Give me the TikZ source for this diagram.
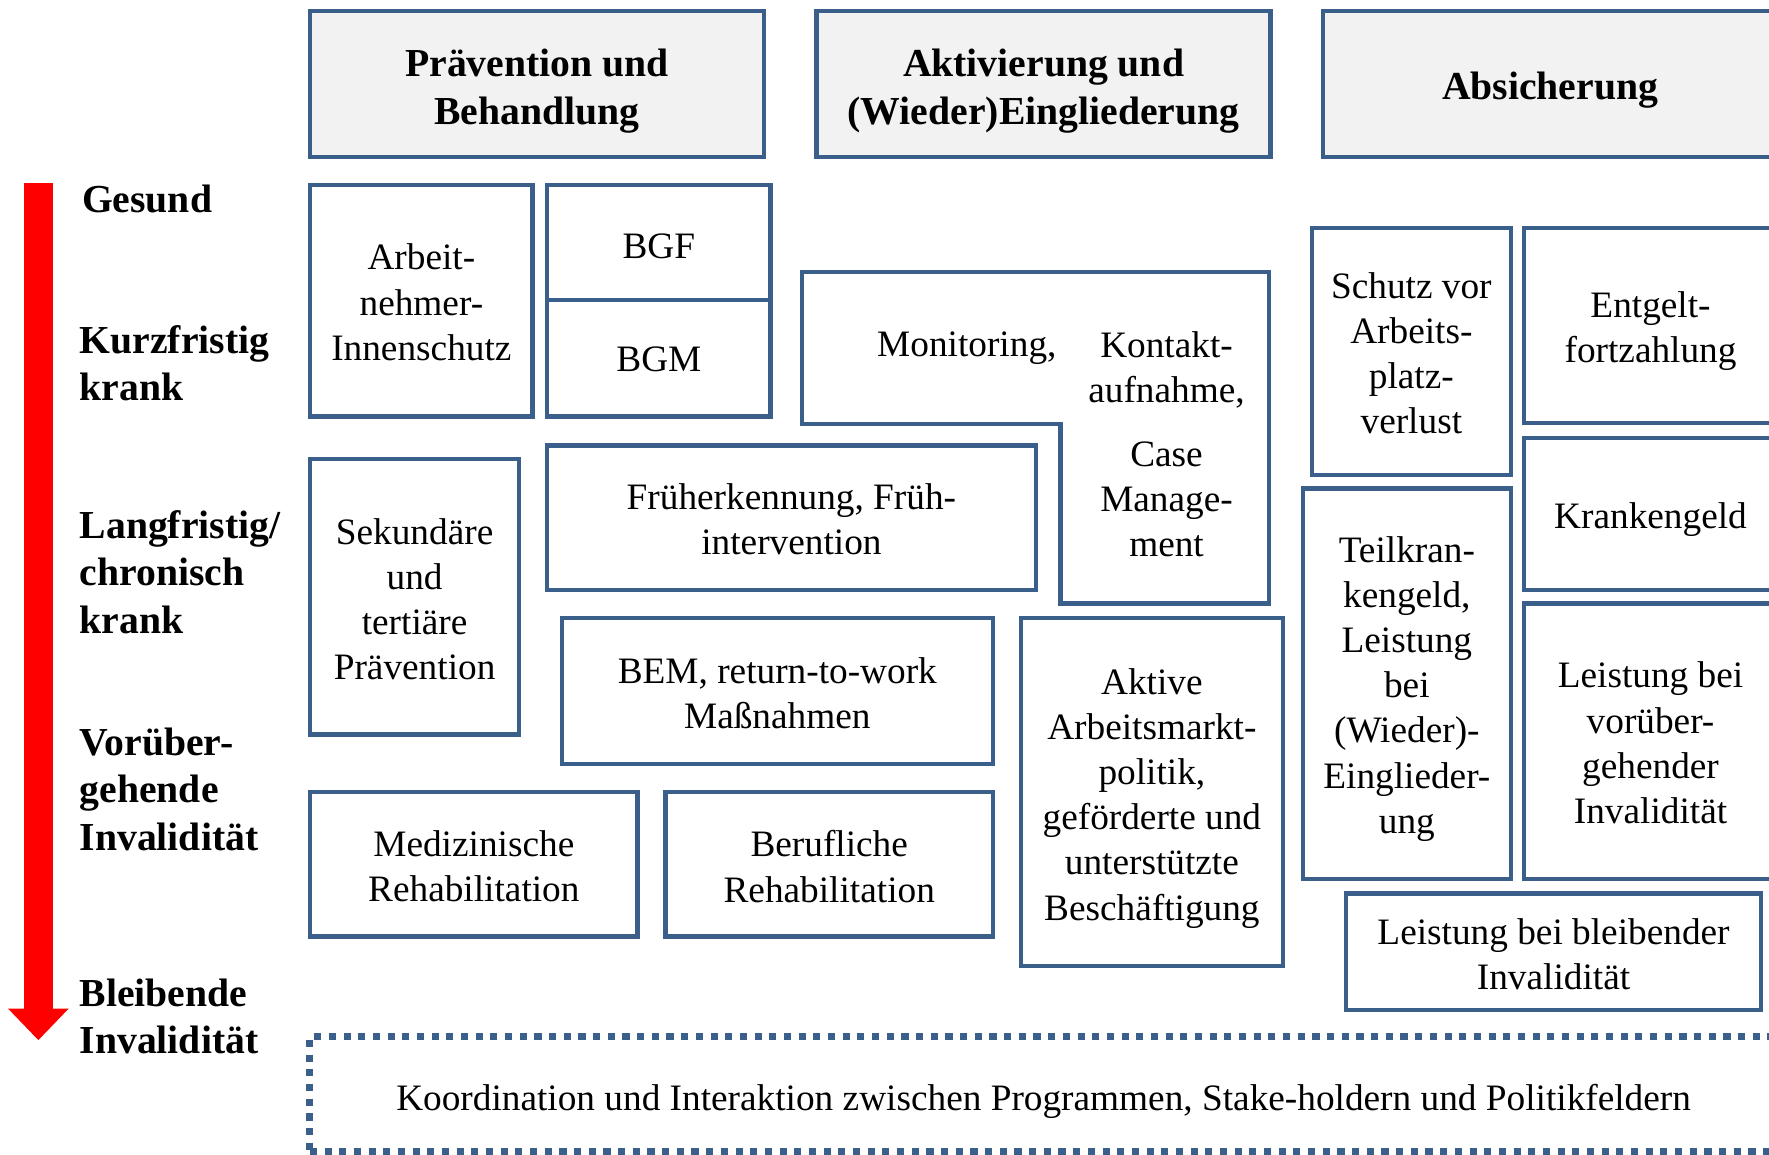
\documentclass[tikz,border=0pt]{standalone}
\usepackage{fontspec}
\setmainfont{Liberation Serif}
\usetikzlibrary{arrows.meta}
\definecolor{boxblue}{RGB}{58,95,139}
\definecolor{hdrgray}{RGB}{242,242,242}

\begin{document}
\begin{tikzpicture}[x=0.01cm, y=-0.01cm,
  cell/.style={draw=boxblue, line width=1.1pt, fill=white, inner sep=0pt},
  hdr/.style={cell, fill=hdrgray, minimum width=4.02cm, minimum height=1.29cm},
  txt/.style={align=center, inner sep=0pt, font=\fontsize{9.4}{11.4}\selectfont},
  hdrtxt/.style={align=center, inner sep=0pt, font=\bfseries\fontsize{10}{12.2}\selectfont},
  lvl/.style={anchor=west, align=left, inner sep=0pt, font=\bfseries\fontsize{10}{12}\selectfont},
  dotcell/.style={cell, line width=1.75pt, dash pattern=on 1.8pt off 1.9pt},
  sick/.style={red, line width=0.26cm, -{Triangle[width=0.52cm, length=0.28cm]}}
]
  \useasboundingbox (0,0) rectangle (1568,1023);

  % --- Kopfzeile ---
  \node[hdr] (hprev) at (476,74.5) {};
  \node[hdrtxt] (hprev-t) at (476,80.5) {Prävention und\\Behandlung};
  \node[hdr] (hakt) at (925,74.5) {};
  \node[hdrtxt] (hakt-t) at (925,80.5) {Aktivierung und\\(Wieder)Eingliederung};
  \node[hdr] (habs) at (1374,74.5) {};
  \node[hdrtxt] (habs-t) at (1374,79.5) {Absicherung};

  % --- Gesundheitszustand ---
  \coordinate (gtop) at (34,162);
  \coordinate (gbot) at (34,922);
  \draw[sick] (gtop) -- (gbot);
  \node[lvl] (gesund) at (72,176) {Gesund};
  \node[lvl] (kurz) at (70,322) {Kurzfristig\\krank};
  \node[lvl] (lang) at (70,507) {Langfristig/\\chronisch\\krank};
  \node[lvl] (vorueb) at (70,699.5) {Vorüber-\\gehende\\Invalidität};
  \node[lvl] (bleibend) at (70,901) {Bleibende\\Invalidität};

  % --- Prävention und Behandlung ---
  \node[cell, minimum width=1.97cm, minimum height=2.05cm] (arbeit) at (373.5,266.5) {};
  \node[txt] (arbeit-t) at (373.5,268) {Arbeit-\\nehmer-\\Innenschutz};
  \node[cell, minimum width=1.98cm, minimum height=1.02cm] (bgf) at (584,215) {};
  \node[txt] (bgf-t) at (584,218) {BGF};
  \node[cell, minimum width=1.98cm, minimum height=1.03cm] (bgm) at (584,317.5) {};
  \node[txt] (bgm-t) at (584,318.5) {BGM};
  \node[cell, minimum width=1.85cm, minimum height=2.44cm] (sekund) at (367.5,529) {};
  \node[txt] (sekund-t) at (367.5,531) {Sekundäre\\und\\tertiäre\\Prävention};
  \node[cell, minimum width=4.33cm, minimum height=1.28cm] (frueh) at (701.5,459) {};
  \node[txt] (frueh-t) at (701.5,460.5) {Früherkennung, Früh-\\intervention};
  \node[cell, minimum width=3.82cm, minimum height=1.29cm] (bem) at (689,612.5) {};
  \node[txt] (bem-t) at (689,614.5) {BEM, return-to-work\\Maßnahmen};
  \node[cell, minimum width=2.90cm, minimum height=1.28cm] (medreha) at (420,766) {};
  \node[txt] (medreha-t) at (420,768) {Medizinische\\Rehabilitation};
  \node[cell, minimum width=2.90cm, minimum height=1.28cm] (berreha) at (735,766) {};
  \node[txt] (berreha-t) at (735,768) {Berufliche\\Rehabilitation};

  % --- Aktivierung und (Wieder)Eingliederung ---
  \draw[boxblue, line width=1.1pt] (711,241) -- (1125,241) -- (1125,535) -- (940,535)
    -- (940,376) -- (711,376) -- cycle;
  \node[txt] (monit) at (857,309) {Monitoring,};
  \node[txt] (kontakt) at (1034,394) {Kontakt-\\aufnahme,\\[4.6pt]Case\\Manage-\\ment};
  \node[cell, minimum width=2.32cm, minimum height=3.08cm] (aktive) at (1021,702) {};
  \node[txt] (aktive-t) at (1021,707.5) {Aktive\\Arbeitsmarkt-\\politik,\\geförderte und\\unterstützte\\Beschäftigung};

  % --- Absicherung ---
  \node[cell, minimum width=1.76cm, minimum height=2.19cm] (schutz) at (1251,311.5) {};
  \node[txt] (schutz-t) at (1251,313) {Schutz vor\\Arbeits-\\platz-\\verlust};
  \node[cell, minimum width=2.24cm, minimum height=1.73cm] (entgelt) at (1463,288.5) {};
  \node[txt] (entgelt-t) at (1463,293.5) {Entgelt-\\fortzahlung};
  \node[cell, minimum width=2.24cm, minimum height=1.35cm] (kgeld) at (1463,455.5) {};
  \node[txt] (kgeld-t) at (1463,460.5) {Krankengeld};
  \node[cell, minimum width=1.84cm, minimum height=3.46cm] (teil) at (1247,606) {};
  \node[txt] (teil-t) at (1247,610.5) {Teilkran-\\kengeld,\\Leistung\\bei\\(Wieder)-\\Einglieder-\\ung};
  \node[cell, minimum width=2.24cm, minimum height=2.44cm] (leistvor) at (1463,657) {};
  \node[txt] (leistvor-t) at (1463,658.5) {Leistung bei\\vorüber-\\gehender\\Invalidität};
  \node[cell, minimum width=3.68cm, minimum height=1.03cm] (leistbl) at (1377,843.5) {};
  \node[txt] (leistbl-t) at (1377,845.5) {Leistung bei bleibender\\Invalidität};

  % --- Koordination ---
  \node[dotcell, minimum width=13.00cm, minimum height=1.02cm] (koord) at (925,970) {};
  \node[txt] (koord-t) at (925,976.5) {Koordination und Interaktion zwischen Programmen, Stake-holdern und Politikfeldern};
\end{tikzpicture}
\end{document}
